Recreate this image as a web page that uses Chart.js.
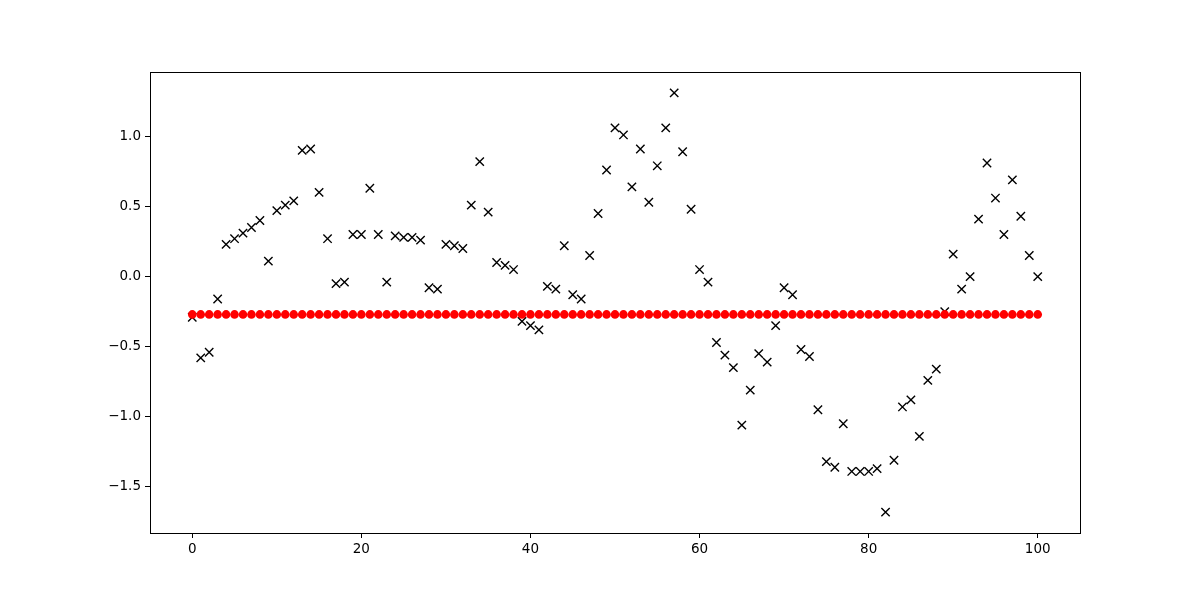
<!DOCTYPE html>
<html>
<head>
<meta charset="utf-8">
<script src="https://cdn.jsdelivr.net/npm/chart.js@4/dist/chart.umd.min.js"></script>
<style>
  html, body { margin: 0; padding: 0; background: #fff; }
  #wrap { width: 1200px; height: 600px; }
</style>
</head>
<body>
<div id="wrap"><canvas id="scatterChart"></canvas></div>
<script>
// observed samples (black x markers), one per index 0..100
const observed = [
  -0.29, -0.58, -0.54, -0.16, 0.23, 0.27, 0.31, 0.35, 0.40, 0.11,
  0.47, 0.51, 0.54, 0.90, 0.91, 0.60, 0.27, -0.05, -0.04, 0.30,
  0.30, 0.63, 0.30, -0.04, 0.29, 0.28, 0.28, 0.26, -0.08, -0.09,
  0.23, 0.22, 0.20, 0.51, 0.82, 0.46, 0.10, 0.08, 0.05, -0.32,
  -0.35, -0.38, -0.07, -0.09, 0.22, -0.13, -0.16, 0.15, 0.45, 0.76,
  1.06, 1.01, 0.64, 0.91, 0.53, 0.79, 1.06, 1.31, 0.89, 0.48,
  0.05, -0.04, -0.47, -0.56, -0.65, -1.06, -0.81, -0.55, -0.61, -0.35,
  -0.08, -0.13, -0.52, -0.57, -0.95, -1.32, -1.36, -1.05, -1.39, -1.39,
  -1.39, -1.37, -1.68, -1.31, -0.93, -0.88, -1.14, -0.74, -0.66, -0.25,
  0.16, -0.09, 0.00, 0.41, 0.81, 0.56, 0.30, 0.69, 0.43, 0.15,
  0.00
];
// flat fitted level (red dots)
const fittedLevel = -0.27;
const xTicks = [0, 20, 40, 60, 80, 100];
const yTicks = [-1.5, -1.0, -0.5, 0.0, 0.5, 1.0];

const obsPoints = observed.map((v, i) => ({ x: i, y: v }));
const fitPoints = observed.map((v, i) => ({ x: i, y: fittedLevel }));

const frame = {
  id: "frame",
  afterDraw(chart) {
    const a = chart.chartArea;
    const c = chart.ctx;
    c.save();
    c.strokeStyle = "#000";
    c.lineWidth = 1;
    c.strokeRect(Math.round(a.left) + 0.5, Math.round(a.top) + 0.5,
      Math.round(a.right - a.left), Math.round(a.bottom - a.top));
    c.restore();
  },
};

const tickFont = { family: "DejaVu Sans", size: 13.5 };

new Chart(document.getElementById("scatterChart").getContext("2d"), {
  type: "scatter",
  data: {
    datasets: [
      {
        label: "fit",
        data: fitPoints,
        pointStyle: "circle",
        pointRadius: 4.3,
        backgroundColor: "#ff0000",
        borderColor: "#ff0000",
        borderWidth: 0,
        order: 0,
      },
      {
        label: "data",
        data: obsPoints,
        pointStyle: "crossRot",
        pointRadius: 5.9,
        borderColor: "#000",
        backgroundColor: "#000",
        borderWidth: 1.4,
        order: 1,
      },
    ],
  },
  options: {
    responsive: true,
    maintainAspectRatio: false,
    animation: false,
    layout: { padding: { left: 95, right: 120, top: 72, bottom: 37 } },
    plugins: { legend: { display: false }, tooltip: { enabled: false } },
    scales: {
      x: {
        type: "linear",
        min: -5,
        max: 105,
        afterBuildTicks: (s) => { s.ticks = xTicks.map((v) => ({ value: v })); },
        afterFit: (s) => { s.height = 30; },
        grid: { drawOnChartArea: false, tickLength: 5, tickColor: "#000" },
        border: { display: false },
        ticks: { color: "#000", font: tickFont, padding: 3, maxRotation: 0,
          callback: (v) => String(v) },
      },
      y: {
        type: "linear",
        min: -1.829,
        max: 1.459,
        afterBuildTicks: (s) => { s.ticks = yTicks.map((v) => ({ value: v })); },
        afterFit: (s) => { s.width = 55; },
        grid: { drawOnChartArea: false, tickLength: 5, tickColor: "#000" },
        border: { display: false },
        ticks: { color: "#000", font: tickFont, padding: 4,
          callback: (v) => v.toFixed(1).replace("-", "\u2212") },
      },
    },
  },
  plugins: [frame],
});
</script>
</body>
</html>
